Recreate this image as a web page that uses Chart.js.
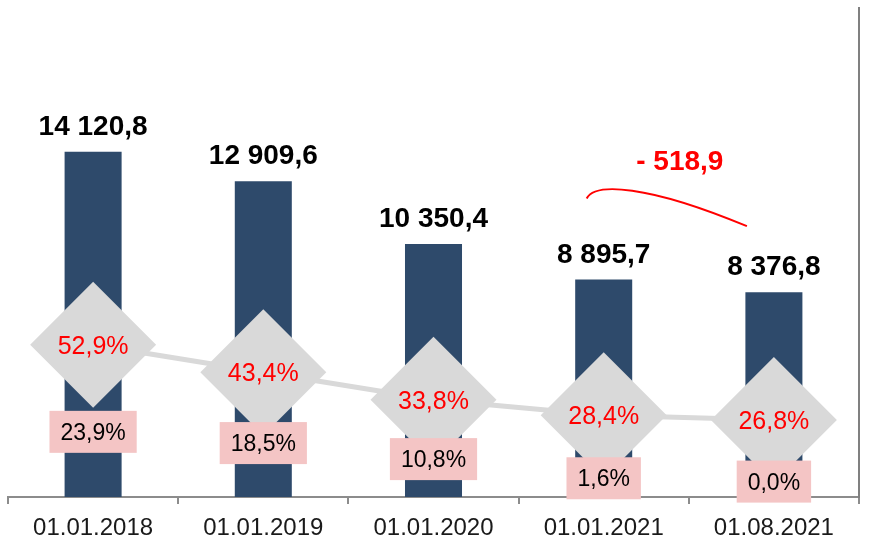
<!DOCTYPE html>
<html>
<head>
<meta charset="utf-8">
<script src="https://cdn.jsdelivr.net/npm/chart.js@4.4.1/dist/chart.umd.min.js"></script>
<style>
  html, body { margin:0; padding:0; background:#fff; }
</style>
</head>
<body>
<canvas id="c" width="890" height="540"></canvas>
<script>
// --- data ---
const dates  = ['01.01.2018', '01.01.2019', '01.01.2020', '01.01.2021', '01.08.2021'];
const totals = [14120.8, 12909.6, 10350.4, 8895.7, 8376.8];   // bars
const shareA = [52.9, 43.4, 33.8, 28.4, 26.8];                // grey diamonds, %
const shareB = [23.9, 18.5, 10.8, 1.6, 0.0];                  // pink boxes, %

const FONT = '"Liberation Sans", Arial, sans-serif';

function fmtNum(v) {
  const [i, d] = v.toFixed(1).split('.');
  return i.replace(/\B(?=(\d{3})+(?!\d))/g, ' ') + ',' + d;
}
function fmtPct(v) {
  return v.toFixed(1).replace('.', ',') + '%';
}

// labels, pink boxes and the red difference note
const labelsPlugin = {
  id: 'labels',
  afterDatasetsDraw(chart) {
    const ctx = chart.ctx;
    const bars = chart.getDatasetMeta(0).data;
    const pts = chart.getDatasetMeta(1).data;
    const boxes = chart.getDatasetMeta(2).data;
    ctx.save();
    ctx.textAlign = 'center';
    ctx.textBaseline = 'alphabetic';

    // bar values
    ctx.font = 'bold 28px ' + FONT;
    ctx.fillStyle = '#000';
    bars.forEach((b, i) => ctx.fillText(fmtNum(totals[i]), b.x, b.y - 17));

    // values inside diamonds
    ctx.font = '25px ' + FONT;
    ctx.fillStyle = '#ff0000';
    pts.forEach((p, i) => ctx.fillText(fmtPct(shareA[i]), p.x, p.y + 9));

    // pink boxes
    ctx.font = '23px ' + FONT;
    boxes.forEach((p, i) => {
      const t = fmtPct(shareB[i]);
      const w = ctx.measureText(t).width + 22;
      ctx.fillStyle = '#f4c5c5';
      ctx.fillRect(p.x - w / 2, p.y - 21, w, 42);
      ctx.fillStyle = '#000';
      ctx.fillText(t, p.x, p.y + 8);
    });

    // difference between last two bars
    const b3 = bars[3], b4 = bars[4];
    const sx = b3.x - 17, sy = b3.y - 81;
    const ex = b4.x - 27, ey = b4.y - 66;
    ctx.strokeStyle = '#ff0000';
    ctx.lineWidth = 2;
    ctx.beginPath();
    ctx.moveTo(sx, sy);
    ctx.bezierCurveTo(sx + 8, sy - 16, sx + 60, sy - 14, ex, ey);
    ctx.stroke();

    ctx.font = 'bold 28px ' + FONT;
    ctx.fillStyle = '#ff0000';
    ctx.fillText('- ' + fmtNum(totals[3] - totals[4]), (b3.x + b4.x) / 2 - 9, b3.y - 110);
    ctx.restore();
  }
};

new Chart(document.getElementById('c'), {
  type: 'bar',
  data: {
    labels: dates,
    datasets: [
      {
        type: 'bar',
        data: totals,
        backgroundColor: '#2e4a6b',
        barPercentage: 0.335,
        categoryPercentage: 1,
        yAxisID: 'y',
        order: 3
      },
      {
        type: 'line',
        data: shareA,
        borderColor: '#d9d9d9',
        borderWidth: 5,
        pointStyle: 'rectRot',
        pointRadius: 63,
        pointBackgroundColor: '#d9d9d9',
        pointBorderWidth: 0,
        clip: false,
        yAxisID: 'y1',
        order: 2
      },
      {
        type: 'line',
        data: shareB,
        showLine: false,
        pointRadius: 0,
        yAxisID: 'y2',
        order: 1
      }
    ]
  },
  options: {
    responsive: false,
    animation: false,
    layout: { autoPadding: false, padding: { left: 8, right: 31, top: 8, bottom: 0 } },
    plugins: { legend: { display: false }, tooltip: { enabled: false } },
    scales: {
      x: {
        offset: true,
        afterFit: (s) => { s.height = 43; },
        grid: { offset: true, drawOnChartArea: false, tickLength: 7, color: '#8c8c8c', lineWidth: 2 },
        border: { color: '#8c8c8c', width: 2 },
        ticks: { color: '#1a1a1a', padding: 12, font: { family: FONT, size: 24, lineHeight: 1 } }
      },
      y: { display: false, min: 0, max: 20000 },
      y1: {
        position: 'right', min: 0, max: 170,
        grid: { drawOnChartArea: false, drawTicks: false },
        border: { color: '#808080', width: 2 },
        ticks: { display: false }
      },
      y2: { display: false, min: -7.4, max: 227.5 }
    }
  },
  plugins: [labelsPlugin]
});
</script>
</body>
</html>
